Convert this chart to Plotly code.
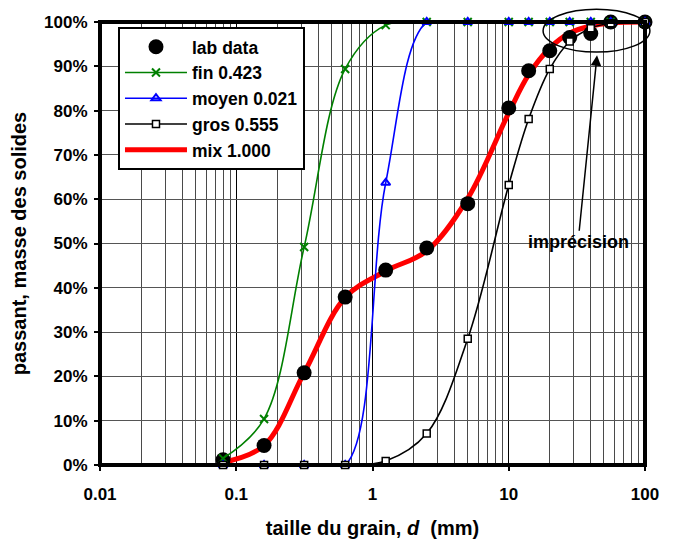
import plotly.graph_objects as go

# ---- data ----
sieve_mm = [0.08, 0.16, 0.315, 0.63, 1.25, 2.5, 5, 10, 14, 20, 28, 40, 56, 100]
lab_data = [1.2, 4.4, 20.8, 37.9, 44.0, 49.0, 59.0, 80.6, 89.0, 93.5, 96.5, 97.4, 100, 100]
fin = [1.5, 10.4, 49.2, 89.4, 99.3, 100, 100, 100, 100, 100, 100, 100, 100, 100]
moyen = [0, 0, 0, 0, 63.7, 100, 100, 100, 100, 100, 100, 100, 100, 100]
gros = [0, 0, 0, 0, 0.9, 7.1, 28.5, 63.2, 78.1, 89.4, 95.6, 98.6, 99.7, 100]
mix = [0.6, 4.4, 20.8, 37.8, 43.8, 48.3, 60.2, 79.5, 88.1, 94.1, 97.5, 99.1, 99.8, 100]

names = ["lab data", "fin 0.423", "moyen 0.021", "gros 0.555", "mix 1.000"]
x_major = [0.01, 0.1, 1, 10, 100]
x_major_text = ["0.01", "0.1", "1", "10", "100"]
x_minor = [m * d for d in [0.01, 0.1, 1, 10] for m in range(2, 10)]
y_ticks = list(range(0, 101, 10))
y_tick_text = [f"{v}%" for v in y_ticks]

FONT = "Liberation Sans, Arial, sans-serif"

fig = go.Figure()

fig.add_trace(go.Scatter(
    x=sieve_mm, y=mix, name=names[4], mode="lines", legendrank=5,
    line=dict(color="#FF0000", width=5, shape="spline"),
))
fig.add_trace(go.Scatter(
    x=sieve_mm, y=lab_data, name=names[0], mode="markers", legendrank=1,
    marker=dict(color="black", size=15, symbol="circle"), cliponaxis=False,
))
fig.add_trace(go.Scatter(
    x=sieve_mm, y=fin, name=names[1], mode="lines+markers", legendrank=2,
    line=dict(color="#008000", width=1.6, shape="spline"),
    marker=dict(symbol="x-thin", size=8, line=dict(color="#008000", width=2)),
    cliponaxis=False,
))
fig.add_trace(go.Scatter(
    x=sieve_mm, y=moyen, name=names[2], mode="lines+markers", legendrank=3,
    line=dict(color="#0000FF", width=1.6, shape="spline"),
    marker=dict(symbol="triangle-up-open", size=8, color="#0000FF", line=dict(width=2)),
    cliponaxis=False,
))
fig.add_trace(go.Scatter(
    x=sieve_mm, y=gros, name=names[3], mode="lines+markers", legendrank=4,
    line=dict(color="black", width=1.6, shape="spline"),
    marker=dict(symbol="square", size=7, color="white", line=dict(color="black", width=1.5)),
    cliponaxis=False,
))

# page body has an 8px margin, so the figure is 8px smaller and margins shifted
fig.update_layout(
    width=665, height=535,
    margin=dict(l=92, r=28, t=14, b=78),
    paper_bgcolor="white", plot_bgcolor="white",
    font=dict(family=FONT, color="black"),
    showlegend=True,
    legend=dict(
        x=0.033, y=0.989, xanchor="left", yanchor="top",
        bgcolor="white", bordercolor="black", borderwidth=2,
        font=dict(size=17.5, family=FONT, weight="bold"),
        itemwidth=62, tracegroupgap=0,
    ),
    xaxis=dict(
        type="log", range=[-2, 2], automargin=False,
        tickmode="array", tickvals=x_major, ticktext=x_major_text,
        ticks="outside", ticklen=5, tickcolor="black", tickwidth=1.5,
        ticklabelstandoff=9,
        showgrid=True, gridcolor="black", gridwidth=1,
        minor=dict(tickmode="array", tickvals=x_minor, showgrid=True,
                   gridcolor="#4a4a4a", gridwidth=1, ticks=""),
        tickfont=dict(size=17, family=FONT, weight="bold"),
        title=dict(text="taille du grain, <i>d</i>  (mm)",
                   font=dict(size=20, family=FONT, weight="bold"), standoff=17),
        showline=False, zeroline=False,
    ),
    yaxis=dict(
        range=[0, 100], automargin=False,
        tickmode="array", tickvals=y_ticks, ticktext=y_tick_text,
        ticks="outside", ticklen=5, tickcolor="black", tickwidth=1.5,
        ticklabelstandoff=3,
        showgrid=True, gridcolor="#555555", gridwidth=1,
        tickfont=dict(size=17, family=FONT, weight="bold"),
        title=dict(text="passant, masse des solides",
                   font=dict(size=20, family=FONT, weight="bold"), standoff=18),
        showline=False, zeroline=False,
    ),
    shapes=[
        dict(type="rect", xref="paper", yref="paper", x0=0, x1=1, y0=0, y1=1,
             line=dict(color="black", width=4), layer="above"),
        dict(type="circle", xref="paper", yref="paper",
             x0=0.813, x1=1.009, y0=0.932, y1=1.029,
             line=dict(color="black", width=1.5), layer="above"),
    ],
    annotations=[
        dict(xref="paper", yref="paper", x=0.912, y=0.925,
             ax=-19, ay=187, showarrow=True, arrowhead=2, arrowsize=1.4,
             arrowwidth=1.5, arrowcolor="black",
             text="imprécision", font=dict(size=18, family=FONT, weight="bold", color="black")),
    ],
)

fig.write_html("out.html")
